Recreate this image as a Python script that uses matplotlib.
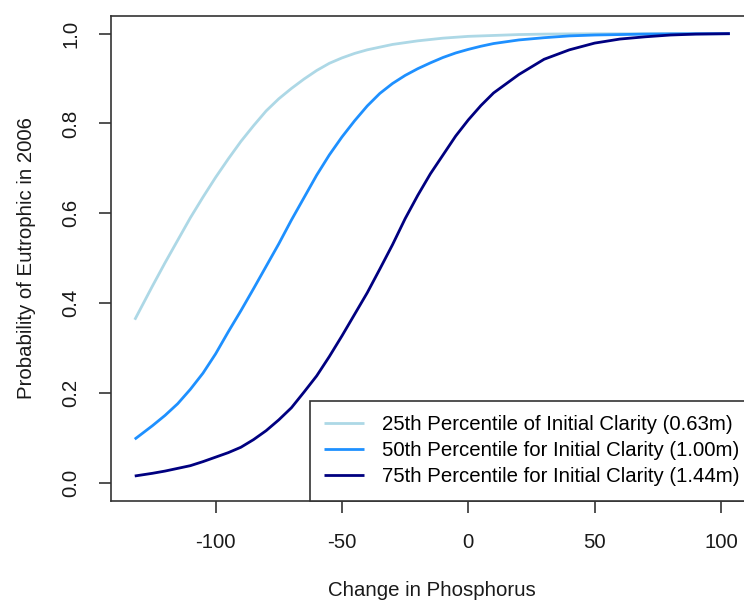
import matplotlib
matplotlib.use("Agg")
import matplotlib.pyplot as plt

plt.rcParams['font.family'] = ['Liberation Sans', 'DejaVu Sans']

# Change in phosphorus (x) and predicted probability of eutrophic status
phos_change = [-132.0, -125, -120, -115, -110, -105, -100, -95, -90, -85, -80,
               -75, -70, -65, -60, -55, -50, -45, -40, -35, -30, -25, -20,
               -15, -10, -5, 0, 5, 10, 20, 30, 40, 50, 60, 70, 80, 90, 103.5]

p_clarity_25 = [0.363, 0.438, 0.490, 0.540, 0.590, 0.636, 0.680, 0.721, 0.760,
                0.795, 0.828, 0.855, 0.878, 0.899, 0.918, 0.934, 0.946, 0.956,
                0.964, 0.970, 0.976, 0.980, 0.984, 0.987, 0.990, 0.992, 0.994,
                0.995, 0.996, 0.998, 0.999, 0.9995, 0.9997, 0.9998, 0.9999,
                0.9999, 1.0, 1.0]

p_clarity_50 = [0.097, 0.127, 0.150, 0.176, 0.208, 0.244, 0.287, 0.336, 0.383,
                0.432, 0.482, 0.532, 0.585, 0.635, 0.685, 0.730, 0.770, 0.806,
                0.839, 0.867, 0.889, 0.907, 0.922, 0.935, 0.947, 0.957, 0.965,
                0.972, 0.978, 0.986, 0.991, 0.995, 0.997, 0.998, 0.999, 0.9995,
                0.9997, 0.9999]

p_clarity_75 = [0.015, 0.021, 0.026, 0.032, 0.038, 0.047, 0.057, 0.067, 0.079,
                0.096, 0.116, 0.140, 0.167, 0.202, 0.238, 0.281, 0.327, 0.375,
                0.423, 0.476, 0.530, 0.588, 0.640, 0.688, 0.730, 0.772, 0.808,
                0.840, 0.868, 0.909, 0.943, 0.964, 0.979, 0.988, 0.993, 0.997,
                0.999, 1.0]

series_labels = ["25th Percentile of Initial Clarity (0.63m)",
                 "50th Percentile for Initial Clarity (1.00m)",
                 "75th Percentile for Initial Clarity (1.44m)"]
series_colors = ["#ADD8E6", "#1E90FF", "#000080"]

x_ticks = [-100, -50, 0, 50, 100]
y_ticks = [0.0, 0.2, 0.4, 0.6, 0.8, 1.0]

FS = 14.7

fig = plt.figure(figsize=(7.44, 6.02), dpi=100)
ax = fig.add_axes([111 / 744, (602 - 500.7) / 602, 642.6 / 744, 485 / 602])

for ys, lab, col in zip([p_clarity_25, p_clarity_50, p_clarity_75],
                        series_labels, series_colors):
    ax.plot(phos_change, ys, color=col, lw=2.0, label=lab,
            solid_capstyle='butt')

ax.set_xlim(-141.4, 112.9)
ax.set_ylim(-0.04, 1.04)
ax.set_xticks(x_ticks)
ax.set_xticklabels([f"{t:d}" for t in x_ticks])
ax.set_yticks(y_ticks)
ax.set_yticklabels([f"{t:.1f}" for t in y_ticks], rotation=90, va='center')

for sp in ax.spines.values():
    sp.set_linewidth(1.2)
    sp.set_color('#333333')

ax.tick_params(axis='both', direction='out', length=8.6, width=1.2,
               color='#333333', labelsize=FS, labelcolor='#1a1a1a')
ax.tick_params(axis='x', pad=14.8)
ax.tick_params(axis='y', pad=13.5)

ax.set_xlabel("Change in Phosphorus", fontsize=FS, color='#1a1a1a')
ax.set_ylabel("Probability of Eutrophic in 2006", fontsize=FS, color='#1a1a1a')
ax.xaxis.set_label_coords(0.5, (500.7 - 581.5) / 485)
ax.yaxis.set_label_coords((36 - 111) / 642.6, 0.5)

leg = ax.legend(loc='lower right', bbox_to_anchor=(1.0, 0.0),
                bbox_transform=ax.transAxes, borderaxespad=0.0,
                fontsize=FS, frameon=True, fancybox=False, framealpha=1.0,
                edgecolor='#333333', handlelength=1.95, handletextpad=0.86,
                borderpad=0.7, labelspacing=0.35)
leg.get_frame().set_linewidth(1.2)
for line in leg.get_lines():
    line.set_linewidth(2.0)

fig.savefig("out.png", dpi=100)
